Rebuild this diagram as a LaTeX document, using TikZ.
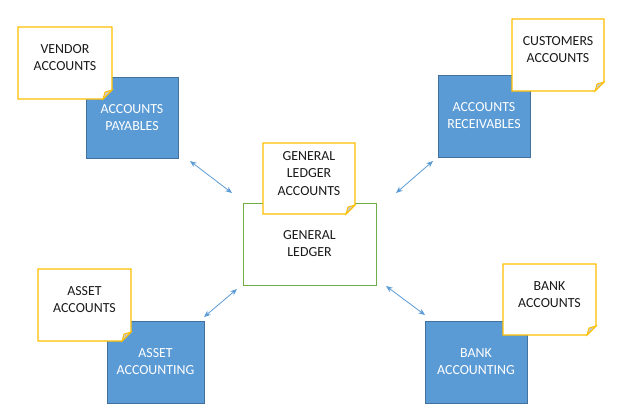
\documentclass[tikz,border=0pt]{standalone}
\usepackage{fontspec}
\setmainfont{Carlito}
\usetikzlibrary{arrows.meta,calc}
\definecolor{boxblue}{HTML}{5B9BD5}
\definecolor{boxedge}{HTML}{41719C}
\definecolor{noteyellow}{HTML}{FFC000}
\definecolor{glgreen}{HTML}{70AD47}
\definecolor{foldgray}{HTML}{C9C9C9}
\definecolor{arrowblue}{HTML}{5B9BD5}
\definecolor{notetextcol}{HTML}{1A1A1A}
\tikzset{
  bluebox/.style={draw=boxedge, line width=0.6pt, fill=boxblue, text=white, align=center, inner sep=0pt, font=\fontsize{10.4}{12.8}\selectfont},
  glbox/.style={draw=glgreen, line width=0.7pt, fill=white, text=notetextcol, align=center, inner sep=0pt, font=\fontsize{10.4}{12.8}\selectfont},
  noteline/.style={draw=noteyellow, line width=0.9pt, fill=white, line join=miter},
  foldline/.style={draw=noteyellow, line width=0.7pt, fill=foldgray},
  notetext/.style={text=notetextcol, align=center, inner sep=0pt, font=\fontsize{10.4}{12.8}\selectfont},
  link/.style={draw=arrowblue, line width=0.6pt, {Stealth[length=5pt,width=4pt]}-{Stealth[length=5pt,width=4pt]}}
}
\newcommand{\mynote}[6]{%
  \draw[noteline] (#2,#3) -- (#4,#3) -- (#4,#5-9) -- (#4-9,#5) -- (#2,#5) -- cycle;
  \draw[foldline] (#4,#5-9) -- (#4-9,#5) -- (#4-7,#5-7) -- cycle;
  \node[notetext] (#1) at ({(#2+#4)/2},{(#3+#5)/2-5}) {#6};
}
\begin{document}
\begin{tikzpicture}[x=0.75pt,y=-0.75pt]
\useasboundingbox (0,0) rectangle (641,419);
% blue boxes
\node[bluebox, minimum width=92*0.75pt, minimum height=81*0.75pt] (ap) at (132,117.5) {ACCOUNTS\\PAYABLES};
\node[bluebox, minimum width=92*0.75pt, minimum height=82*0.75pt] (ar) at (484,116) {ACCOUNTS\\RECEIVABLES};
\node[bluebox, minimum width=97*0.75pt, minimum height=82*0.75pt] (aa) at (155.5,362) {ASSET\\ACCOUNTING};
\node[bluebox, minimum width=102*0.75pt, minimum height=82*0.75pt] (ba) at (476,362) {BANK\\ACCOUNTING};
% general ledger
\node[glbox, minimum width=133*0.75pt, minimum height=82*0.75pt] (gl) at (309.5,244) {GENERAL\\LEDGER};
% notes
\mynote{vn}{18}{27}{112}{99}{VENDOR\\ACCOUNTS}
\mynote{cn}{512}{19}{604}{91}{CUSTOMERS\\ACCOUNTS}
\mynote{gn}{263}{143}{355}{214}{GENERAL\\LEDGER\\ACCOUNTS}
\mynote{an}{38}{269}{131}{341}{ASSET\\ACCOUNTS}
\mynote{bn}{503}{264}{596}{335}{BANK\\ACCOUNTS}
% connector ends
\coordinate (p1) at (190,161); \coordinate (q1) at (232,193);
\coordinate (p2) at (433,161); \coordinate (q2) at (396,193);
\coordinate (p3) at (204,317); \coordinate (q3) at (237,289);
\coordinate (p4) at (425,315); \coordinate (q4) at (386,286);
\draw[link] (p1) -- (q1);
\draw[link] (p2) -- (q2);
\draw[link] (p3) -- (q3);
\draw[link] (p4) -- (q4);
\end{tikzpicture}
\end{document}
